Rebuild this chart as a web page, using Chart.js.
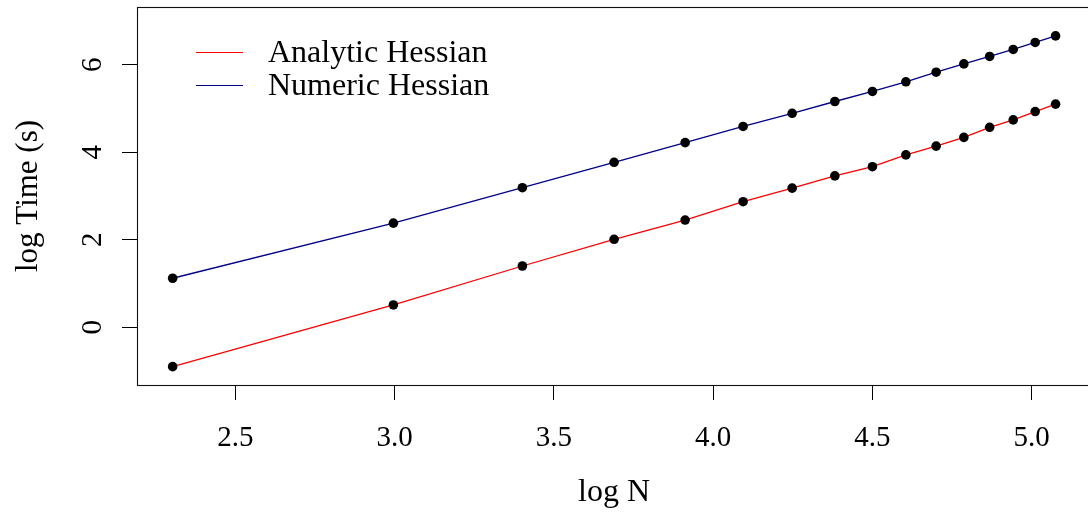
<!DOCTYPE html>
<html>
<head>
<meta charset="utf-8">
<script src="https://cdn.jsdelivr.net/npm/chart.js@4/dist/chart.umd.min.js"></script>
<style>
  html, body { margin: 0; padding: 0; background: #fff; overflow: hidden; }
  #c { display: block; width: 1088px; height: 515px; }
</style>
</head>
<body>
<canvas id="c" width="1088" height="515"></canvas>
<script>
// log problem size (natural log of N = 10, 20, ..., 160)
const logN = [2.303, 2.996, 3.401, 3.689, 3.912, 4.094, 4.248, 4.382,
              4.500, 4.605, 4.700, 4.787, 4.868, 4.942, 5.011, 5.075];
// log run time in seconds
const analyticTime = [-0.90, 0.51, 1.40, 2.01, 2.45, 2.87, 3.18, 3.46,
                      3.67, 3.94, 4.14, 4.34, 4.57, 4.74, 4.93, 5.10];
const numericTime = [1.12, 2.38, 3.19, 3.77, 4.22, 4.59, 4.89, 5.16,
                     5.39, 5.61, 5.83, 6.02, 6.19, 6.35, 6.51, 6.66];
const seriesNames = ['Analytic Hessian', 'Numeric Hessian'];
const xTicks = [2.5, 3.0, 3.5, 4.0, 4.5, 5.0];
const yTicks = [0, 2, 4, 6];
const xTitle = 'log N';
const yTitle = 'log Time (s)';

const FONT = '"Liberation Serif", "Times New Roman", serif';
const toPts = ys => ys.map((y, i) => ({ x: logN[i], y }));

// keep the plot region fixed: no extra label overhang padding from the scales
const noOverhang = s => {
  s.paddingTop = 0; s.paddingBottom = 0; s.paddingLeft = 0; s.paddingRight = 0;
};

// the plot region runs a few pixels past the right edge of the canvas
const widenPlot = {
  id: 'widenPlot',
  afterLayout(chart) {
    const a = chart.chartArea;
    const xs = chart.scales.x;
    a.right = chart.width + 3;
    a.width = a.right - a.left;
    xs.right = a.right;
    xs.width = xs.right - xs.left;
    xs.configure();
  }
};

// plot frame plus an inset legend built from the dataset styles
const frameAndLegend = {
  id: 'frameAndLegend',
  afterDraw(chart) {
    const { ctx, chartArea: a } = chart;
    ctx.save();
    ctx.strokeStyle = '#111';
    ctx.lineWidth = 1.1;
    ctx.strokeRect(a.left + 0.5, a.top + 0.5, a.right - a.left, a.bottom - a.top);

    ctx.font = '32px ' + FONT;
    ctx.textBaseline = 'middle';
    ctx.textAlign = 'left';
    chart.data.datasets.forEach((ds, i) => {
      const y = 52.5 + i * 33;
      ctx.strokeStyle = ds.borderColor;
      ctx.lineWidth = 1;
      ctx.beginPath();
      ctx.moveTo(196, y);
      ctx.lineTo(243, y);
      ctx.stroke();
      ctx.fillStyle = '#000';
      ctx.fillText(ds.label, 268, y + 1);
    });
    ctx.restore();
  }
};

new Chart(document.getElementById('c'), {
  type: 'line',
  data: {
    datasets: [
      {
        label: seriesNames[0],
        data: toPts(analyticTime),
        borderColor: '#ff0000',
        borderWidth: 1.3,
        pointRadius: 4.8,
        pointBackgroundColor: '#000',
        pointBorderWidth: 0,
        tension: 0
      },
      {
        label: seriesNames[1],
        data: toPts(numericTime),
        borderColor: '#000088',
        borderWidth: 1.3,
        pointRadius: 4.8,
        pointBackgroundColor: '#000',
        pointBorderWidth: 0,
        tension: 0
      }
    ]
  },
  options: {
    responsive: false,
    maintainAspectRatio: false,
    animation: false,
    devicePixelRatio: 1,
    layout: { autoPadding: false, padding: { top: 7, right: 0, bottom: 0, left: 0 } },
    plugins: {
      legend: { display: false },
      tooltip: { enabled: false }
    },
    scales: {
      x: {
        type: 'linear',
        position: 'bottom',
        min: 2.1911,
        max: 5.1862,
        afterBuildTicks: s => { s.ticks = xTicks.map(v => ({ value: v })); },
        afterFit: s => { s.height = 130; noOverhang(s); },
        grid: { drawOnChartArea: false, drawTicks: true, tickLength: 15, tickColor: '#000', tickWidth: 1 },
        border: { display: false },
        ticks: {
          color: '#000',
          font: { family: FONT, size: 29 },
          padding: 21,
          maxRotation: 0,
          autoSkip: false,
          callback: v => Number(v).toFixed(1)
        },
        title: {
          display: true,
          text: xTitle,
          color: '#000',
          font: { family: FONT, size: 32 },
          padding: { top: 0, bottom: 3 }
        }
      },
      y: {
        type: 'linear',
        position: 'left',
        min: -1.32,
        max: 7.32,
        afterBuildTicks: s => { s.ticks = yTicks.map(v => ({ value: v })); },
        afterFit: s => { s.width = 137; noOverhang(s); },
        grid: { drawOnChartArea: false, drawTicks: true, tickLength: 15, tickColor: '#000', tickWidth: 1 },
        border: { display: false },
        ticks: {
          color: '#000',
          font: { family: FONT, size: 29 },
          padding: 21,
          minRotation: 90,
          maxRotation: 90,
          crossAlign: 'center',
          autoSkip: false,
          callback: v => String(v)
        },
        title: {
          display: true,
          text: yTitle,
          color: '#000',
          font: { family: FONT, size: 31 },
          padding: { top: 10, bottom: 0 }
        }
      }
    }
  },
  plugins: [widenPlot, frameAndLegend]
});
</script>
</body>
</html>
